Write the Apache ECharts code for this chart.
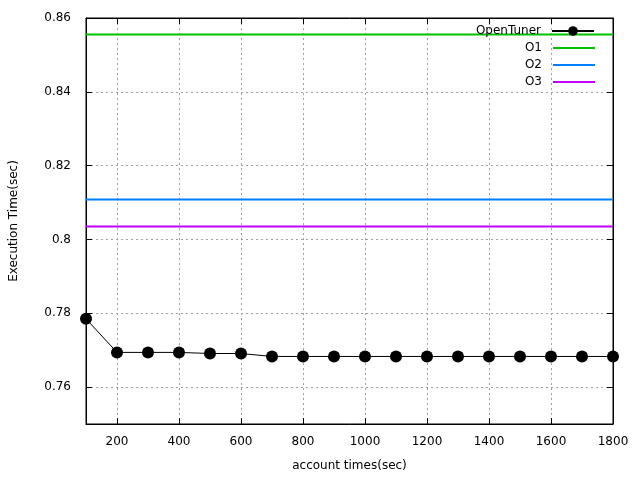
<!DOCTYPE html>
<html><head><meta charset="utf-8">
<script src="https://cdn.jsdelivr.net/npm/echarts@6/dist/echarts.min.js"></script>
<style>html,body{margin:0;padding:0;background:#fff}#c{width:640px;height:480px}</style>
</head><body><div id="c"></div>
<script>
var xTimes = [100,200,300,400,500,600,700,800,900,1000,1100,1200,1300,1400,1500,1600,1700,1800];
var openTuner = [0.7785,0.7694,0.7694,0.7694,0.7691,0.7691,0.7683,0.7683,0.7683,0.7683,0.7683,0.7683,0.7683,0.7683,0.7683,0.7683,0.7683,0.7683];
var o1 = 0.8555, o2 = 0.8108, o3 = 0.8035;
var xTicks = [200,400,600,800,1000,1200,1400,1600,1800];
var yTicks = [0.76,0.78,0.8,0.82,0.84,0.86];
var font = 'DejaVu Sans';

function flat(v){ return [[xTimes[0], v],[xTimes[xTimes.length-1], v]]; }
var chart = echarts.init(document.getElementById('c'));
var axisCommon = {
  axisLine:{show:true,onZero:false,lineStyle:{color:'#000',width:1}},
  axisTick:{show:true,inside:true,length:6,lineStyle:{color:'#000'}},
  splitLine:{show:false}
};
function legendItem(name, top, isRect){
  return {data:[isRect ? {name:name, icon:'rect'} : name], right:45, top:top, orient:'horizontal', align:'right',
    itemWidth:42, itemHeight: isRect ? 2 : 12,
    itemGap:0, padding:0, textStyle:{fontFamily:font,fontSize:12,color:'#000',padding:[0,6,0,0]}, selectedMode:false};
}
chart.setOption({
  animation:false,
  backgroundColor:'#fff',
  grid:{left:85,right:27,top:18,bottom:56,show:true,borderColor:'#000',borderWidth:1,backgroundColor:'transparent'},
  xAxis:[
    Object.assign({}, axisCommon, {type:'value',position:'bottom',min:100,max:1800,
      name:'account times(sec)',nameLocation:'middle',nameGap:36,
      nameTextStyle:{fontFamily:font,fontSize:12,color:'#000'},
      axisTick:{show:true,inside:true,length:6,lineStyle:{color:'#000'},customValues:xTicks},
      axisLabel:{customValues:xTicks,fontFamily:font,fontSize:12,color:'#000',margin:12,
        formatter:function(v){return String(v);}},
      splitLine:{show:true,lineStyle:{color:'#a0a0a0',type:[2,3],width:1}}}),
    Object.assign({}, axisCommon, {type:'value',position:'top',min:100,max:1800,
      axisTick:{show:true,inside:true,length:6,lineStyle:{color:'#000'},customValues:xTicks},
      axisLabel:{show:false,customValues:xTicks}})
  ],
  yAxis:[
    Object.assign({}, axisCommon, {type:'value',position:'left',min:0.75,max:0.86,
      name:'Execution Time(sec)',nameLocation:'middle',nameGap:66,nameRotate:90,
      nameTextStyle:{fontFamily:font,fontSize:12,color:'#000'},
      axisTick:{show:true,inside:true,length:6,lineStyle:{color:'#000'},customValues:yTicks},
      axisLabel:{customValues:yTicks,fontFamily:font,fontSize:12,color:'#000',margin:15,
        formatter:function(v){return String(+v.toFixed(2));}},
      splitLine:{show:true,lineStyle:{color:'#a0a0a0',type:[2,3],width:1}}}),
    Object.assign({}, axisCommon, {type:'value',position:'right',min:0.75,max:0.86,
      axisTick:{show:true,inside:true,length:6,lineStyle:{color:'#000'},customValues:yTicks},
      axisLabel:{show:false,customValues:yTicks}})
  ],
  legend:[legendItem('OpenTuner',25,false),legendItem('O1',42,true),legendItem('O2',59,true),legendItem('O3',76,true)],
  series:[
    {name:'OpenTuner',type:'line',data:xTimes.map(function(x,i){return [x,openTuner[i]];}),
      symbol:'circle',symbolSize:12,showSymbol:true,color:'#000',
      itemStyle:{color:'#000'},lineStyle:{color:'#000',width:1},z:5},
    {name:'O1',type:'line',data:flat(o1),symbol:'none',color:'#00c000',lineStyle:{color:'#00c000',width:2}},
    {name:'O2',type:'line',data:flat(o2),symbol:'none',color:'#0080ff',lineStyle:{color:'#0080ff',width:2}},
    {name:'O3',type:'line',data:flat(o3),symbol:'none',color:'#c000ff',lineStyle:{color:'#c000ff',width:2}}
  ]
});
</script></body></html>
